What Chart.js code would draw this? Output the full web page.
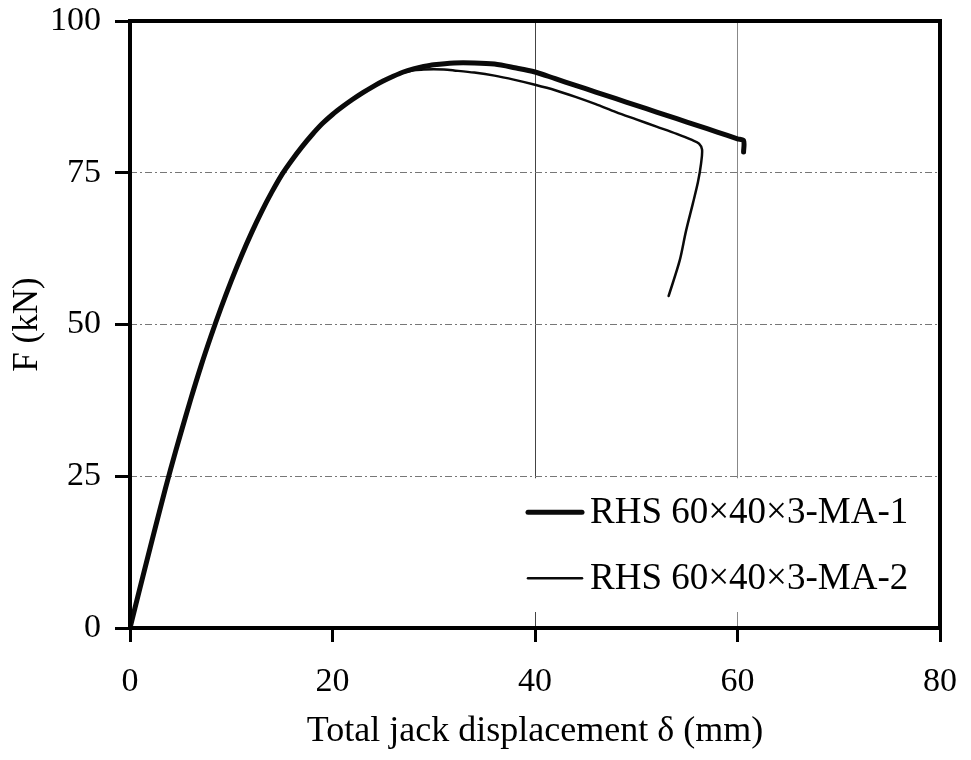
<!DOCTYPE html>
<html>
<head>
<meta charset="utf-8">
<script src="https://cdn.jsdelivr.net/npm/chart.js@4.4.1/dist/chart.umd.min.js"></script>
<style>
  html, body { margin: 0; padding: 0; background: #fff; }
  #wrap { width: 971px; height: 760px; }
</style>
</head>
<body>
<div id="wrap"><canvas id="loadChart" width="971" height="760"></canvas></div>
<script>
// jack displacement (mm) and load (kN) for each specimen
const labels = ['RHS 60\u00d740\u00d73-MA-1', 'RHS 60\u00d740\u00d73-MA-2'];

const disp1 = [0, 1, 2, 3, 4, 5, 6, 7, 8, 9, 10, 11, 12, 13, 14, 15, 16, 17, 18, 19, 20,
    21, 22, 23, 24, 25, 26, 27, 28, 29, 30, 32, 34, 36, 38, 40, 42, 44, 46, 48, 50,
    52, 54, 56, 58, 60, 60.6, 60.6];
const load1 = [0, 6.7, 13.3, 19.8, 26.1, 32.0, 37.7, 43.1, 48.1, 52.8, 57.2, 61.3, 65.1, 68.6, 71.8, 74.7,
    77.1, 79.3, 81.3, 83.1, 84.6, 85.9, 87.1, 88.2, 89.2, 90.1, 90.9, 91.6, 92.1, 92.5, 92.8,
    93.1, 93.1, 92.9, 92.3, 91.6, 90.5, 89.4, 88.3, 87.2, 86.1, 85.0, 83.9, 82.8, 81.7, 80.6,
    80.3, 78.4];

const disp2 = [0, 1, 2, 3, 4, 5, 6, 7, 8, 9, 10, 11, 12, 13, 14, 15, 16, 17, 18, 19, 20,
    21, 22, 23, 24, 25, 26, 27, 28, 29, 30, 31, 32, 34, 36, 38, 40, 42, 44, 46, 48, 50, 52, 54,
    55.5, 56.2, 56.5, 56.4, 56.1, 55.6, 54.9, 54.3, 53.2];
const load2 = [0, 6.7, 13.3, 19.8, 26.1, 32.0, 37.7, 43.1, 48.1, 52.8, 57.2, 61.3, 65.1, 68.6, 71.8, 74.7,
    77.1, 79.3, 81.3, 83.1, 84.6, 85.9, 87.1, 88.2, 89.2, 90.1, 90.9, 91.5, 91.9, 92.0, 92.05,
    92.0, 91.85, 91.5, 91.0, 90.3, 89.5, 88.6, 87.5, 86.3, 85.0, 83.8, 82.6, 81.4,
    80.4, 79.8, 78.8, 76.5, 73.5, 70.0, 65.3, 60.6, 54.7];

const xTicks = [0, 20, 40, 60, 80];
const yTicks = [0, 25, 50, 75, 100];
const xGrid = [40, 60];
const yGrid = [25, 50, 75];

const serif = "'Liberation Serif', 'Times New Roman', serif";

function toPoints(xs, ys) {
    return xs.map((x, i) => ({ x: x, y: ys[i] }));
}

// legend sits inside the plot, lower right, on a white box
const innerLegend = {
    id: 'innerLegend',
    beforeDatasetsDraw(chart) {
        const { ctx, chartArea } = chart;
        const boxLeft = chartArea.right - 460;
        const boxTop = chart.scales.y.getPixelForValue(25) + 2;
        const boxBottom = chartArea.bottom - 16;
        ctx.save();
        ctx.fillStyle = '#fff';
        ctx.fillRect(boxLeft, boxTop, chartArea.right - boxLeft, boxBottom - boxTop);
        ctx.font = '37px ' + serif;
        ctx.textBaseline = 'middle';
        chart.data.datasets.forEach((ds, i) => {
            const rowY = boxTop + 34 + i * 66;
            ctx.strokeStyle = ds.borderColor;
            ctx.lineWidth = ds.borderWidth;
            ctx.lineCap = 'round';
            ctx.beginPath();
            ctx.moveTo(chartArea.right - 412, rowY);
            ctx.lineTo(chartArea.right - 358, rowY);
            ctx.stroke();
            ctx.fillStyle = '#000';
            ctx.fillText(ds.label, chartArea.right - 350, rowY + 1);
        });
        ctx.restore();
    },
    afterDraw(chart) {
        const { ctx, chartArea } = chart;
        ctx.save();
        ctx.strokeStyle = '#000';
        ctx.lineWidth = 4;
        ctx.strokeRect(chartArea.left, chartArea.top, chartArea.right - chartArea.left, chartArea.bottom - chartArea.top);
        ctx.restore();
    }
};

const ctx = document.getElementById('loadChart').getContext('2d');
const chart = new Chart(ctx, {
    type: 'line',
    data: {
        datasets: [
            {
                label: labels[0],
                data: toPoints(disp1, load1),
                borderColor: '#0a0a0a',
                borderWidth: 5,
                pointRadius: 0,
                tension: 0.3,
                borderCapStyle: 'round',
                borderJoinStyle: 'round',
                fill: false
            },
            {
                label: labels[1],
                data: toPoints(disp2, load2),
                borderColor: '#0a0a0a',
                borderWidth: 2.5,
                pointRadius: 0,
                tension: 0.3,
                borderCapStyle: 'round',
                borderJoinStyle: 'round',
                fill: false
            }
        ]
    },
    options: {
        responsive: false,
        animation: false,
        layout: { padding: { left: 0, right: 31, top: 21, bottom: 0 } },
        plugins: {
            legend: { display: false },
            tooltip: { enabled: false }
        },
        scales: {
            x: {
                type: 'linear',
                min: 0,
                max: 80,
                afterBuildTicks: s => { s.ticks = xTicks.map(v => ({ value: v })); },
                afterFit: s => {
                    s.height = 132;
                    s.paddingLeft = 0;
                    s.paddingRight = 0;
                },
                border: { display: false },
                grid: {
                    color: c => {
                        const v = c.tick && c.tick.value;
                        if (v === 40) return '#444';
                        if (v === 60) return '#888';
                        return 'rgba(0,0,0,0)';
                    },
                    lineWidth: 1,
                    tickColor: '#000',
                    tickWidth: 3,
                    tickLength: 14
                },
                ticks: {
                    color: '#000',
                    padding: 20,
                    font: { family: serif, size: 34 }
                },
                title: {
                    display: true,
                    text: 'Total jack displacement \u03b4 (mm)',
                    color: '#000',
                    font: { family: serif, size: 36 },
                    padding: { top: 0, bottom: 7 }
                }
            },
            y: {
                min: 0,
                max: 100,
                afterBuildTicks: s => { s.ticks = yTicks.map(v => ({ value: v })); },
                afterFit: s => {
                    s.width = 130;
                    s.paddingTop = 0;
                    s.paddingBottom = 0;
                },
                border: { display: false, dash: [7, 3, 2, 3] },
                grid: {
                    color: c => yGrid.includes(c.tick && c.tick.value) ? '#777' : 'rgba(0,0,0,0)',
                    lineWidth: 1,
                    tickColor: '#000',
                    tickWidth: 3,
                    tickLength: 15
                },
                ticks: {
                    color: '#000',
                    padding: 14,
                    font: { family: serif, size: 34 }
                },
                title: {
                    display: true,
                    text: 'F (kN)',
                    color: '#000',
                    font: { family: serif, size: 35 },
                    padding: { top: 7, bottom: 0 }
                }
            }
        }
    },
    plugins: [innerLegend]
});
</script>
</body>
</html>
